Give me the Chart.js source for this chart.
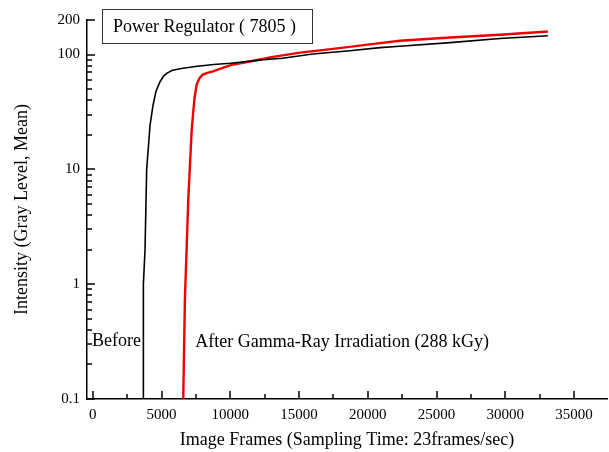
<!DOCTYPE html>
<html lang="en">
<head>
    <meta charset="UTF-8">
    <title>Power Regulator (7805)</title>
    <script src="https://cdn.jsdelivr.net/npm/chart.js"></script>
    <style>
        body { margin: 0; background: #fff; }
    </style>
</head>
<body>
    <canvas id="intensityChart" width="609" height="452"></canvas>

    <script>
        // frames / mean gray level
        const beforeFrames = [3670, 3680, 3800, 3920, 4050, 4160, 4380, 4600, 4890, 5150, 5400, 5800, 6560, 7600, 8800, 10000, 12400, 13800, 16000, 18700, 20900, 22300, 26000, 29600, 33100];
        const beforeLevel = [0.1, 1.0, 2.0, 10, 16, 24, 36, 48, 58, 65, 69, 73, 76, 79, 82, 84, 90, 93, 101, 108, 115, 118, 127, 138, 146];

        const afterFrames = [6580, 6700, 6950, 7190, 7290, 7400, 7560, 7750, 8000, 8400, 8740, 9500, 10200, 11430, 13000, 15070, 17470, 20000, 22340, 26000, 29620, 33100];
        const afterLevel = [0.1, 0.74, 5.6, 21.6, 30, 42, 55, 62, 67, 69.5, 71.5, 77, 82, 87, 95, 104, 112, 122, 132, 141, 149, 159];

        const xTicks = [0, 5000, 10000, 15000, 20000, 25000, 30000, 35000];
        const yTicks = [0.1, 1, 10, 100, 200];

        const serif = "'Liberation Serif', 'Times New Roman', serif";

        function toPoints(xs, ys) {
            return xs.map((x, i) => ({ x: x, y: ys[i] }));
        }

        // inward tick marks, title box and the two curve labels
        const decorations = {
            id: 'decorations',
            afterDraw(chart) {
                const ctx = chart.ctx;
                const xs = chart.scales.x;
                const ys = chart.scales.y;
                const area = chart.chartArea;
                ctx.save();
                ctx.strokeStyle = '#000';
                ctx.lineWidth = 1.5;
                ctx.beginPath();
                // x ticks
                for (let v = 0; v <= 37000; v += 2500) {
                    const px = Math.round(xs.getPixelForValue(v));
                    const len = (v % 5000 === 0) ? 8 : 5;
                    ctx.moveTo(px, area.bottom);
                    ctx.lineTo(px, area.bottom - len);
                }
                // y ticks (log minors)
                [0.1, 1, 10, 100].forEach(d => {
                    for (let m = 1; m <= 9; m++) {
                        const v = d * m;
                        if (v > 200) break;
                        const py = Math.round(ys.getPixelForValue(v));
                        const len = (m === 1) ? 8 : 5;
                        ctx.moveTo(area.left, py);
                        ctx.lineTo(area.left + len, py);
                    }
                });
                const top = Math.round(ys.getPixelForValue(200));
                ctx.moveTo(area.left, top);
                ctx.lineTo(area.left + 8, top);
                ctx.stroke();

                // title box
                ctx.lineWidth = 1;
                ctx.strokeStyle = '#333';
                ctx.strokeRect(102.5, 9.5, 210, 34);
                ctx.fillStyle = '#000';
                ctx.font = '18px ' + serif;
                ctx.textBaseline = 'middle';
                ctx.textAlign = 'left';
                ctx.fillText('Power Regulator ( 7805 )', 113, 27);

                ctx.fillText('Before', xs.getPixelForValue(-50), ys.getPixelForValue(0.32));
                ctx.fillText('After Gamma-Ray Irradiation (288 kGy)', xs.getPixelForValue(7450), ys.getPixelForValue(0.31));
                ctx.restore();
            }
        };

        const ctx = document.getElementById('intensityChart').getContext('2d');
        new Chart(ctx, {
            type: 'line',
            data: {
                datasets: [{
                    label: 'Before',
                    data: toPoints(beforeFrames, beforeLevel),
                    borderColor: '#000',
                    borderWidth: 1.6,
                    pointRadius: 0,
                    tension: 0
                }, {
                    label: 'After Gamma-Ray Irradiation (288 kGy)',
                    data: toPoints(afterFrames, afterLevel),
                    borderColor: '#ee0000',
                    borderWidth: 2.4,
                    pointRadius: 0,
                    tension: 0
                }]
            },
            options: {
                responsive: false,
                animation: false,
                layout: { padding: { top: 20, right: 2 } },
                plugins: {
                    legend: { display: false },
                    tooltip: { enabled: false }
                },
                scales: {
                    x: {
                        type: 'linear',
                        min: -420,
                        max: 37400,
                        grid: { display: false, drawTicks: false },
                        border: { display: true, color: '#000', width: 1.5 },
                        afterBuildTicks: (scale) => { scale.ticks = xTicks.map(v => ({ value: v })); },
                        afterFit: (scale) => { scale.height = 53; },
                        ticks: {
                            color: '#000',
                            padding: 7,
                            maxRotation: 0,
                            font: { family: serif, size: 15 },
                            callback: (v) => String(v)
                        },
                        title: {
                            display: true,
                            text: 'Image Frames (Sampling Time: 23frames/sec)',
                            color: '#000',
                            font: { family: serif, size: 18 },
                            padding: { top: 0, bottom: 1 }
                        }
                    },
                    y: {
                        type: 'logarithmic',
                        min: 0.1,
                        max: 200,
                        grid: { display: false, drawTicks: false },
                        border: { display: true, color: '#000', width: 1.5 },
                        afterBuildTicks: (scale) => { scale.ticks = yTicks.map(v => ({ value: v })); },
                        afterFit: (scale) => { scale.width = 87; },
                        ticks: {
                            color: '#000',
                            padding: 7,
                            font: { family: serif, size: 15 },
                            callback: (v) => String(v)
                        },
                        title: {
                            display: true,
                            text: 'Intensity (Gray Level, Mean)',
                            color: '#000',
                            font: { family: serif, size: 18 },
                            padding: { top: 11, bottom: 0 }
                        }
                    }
                }
            },
            plugins: [decorations]
        });
    </script>
</body>
</html>
